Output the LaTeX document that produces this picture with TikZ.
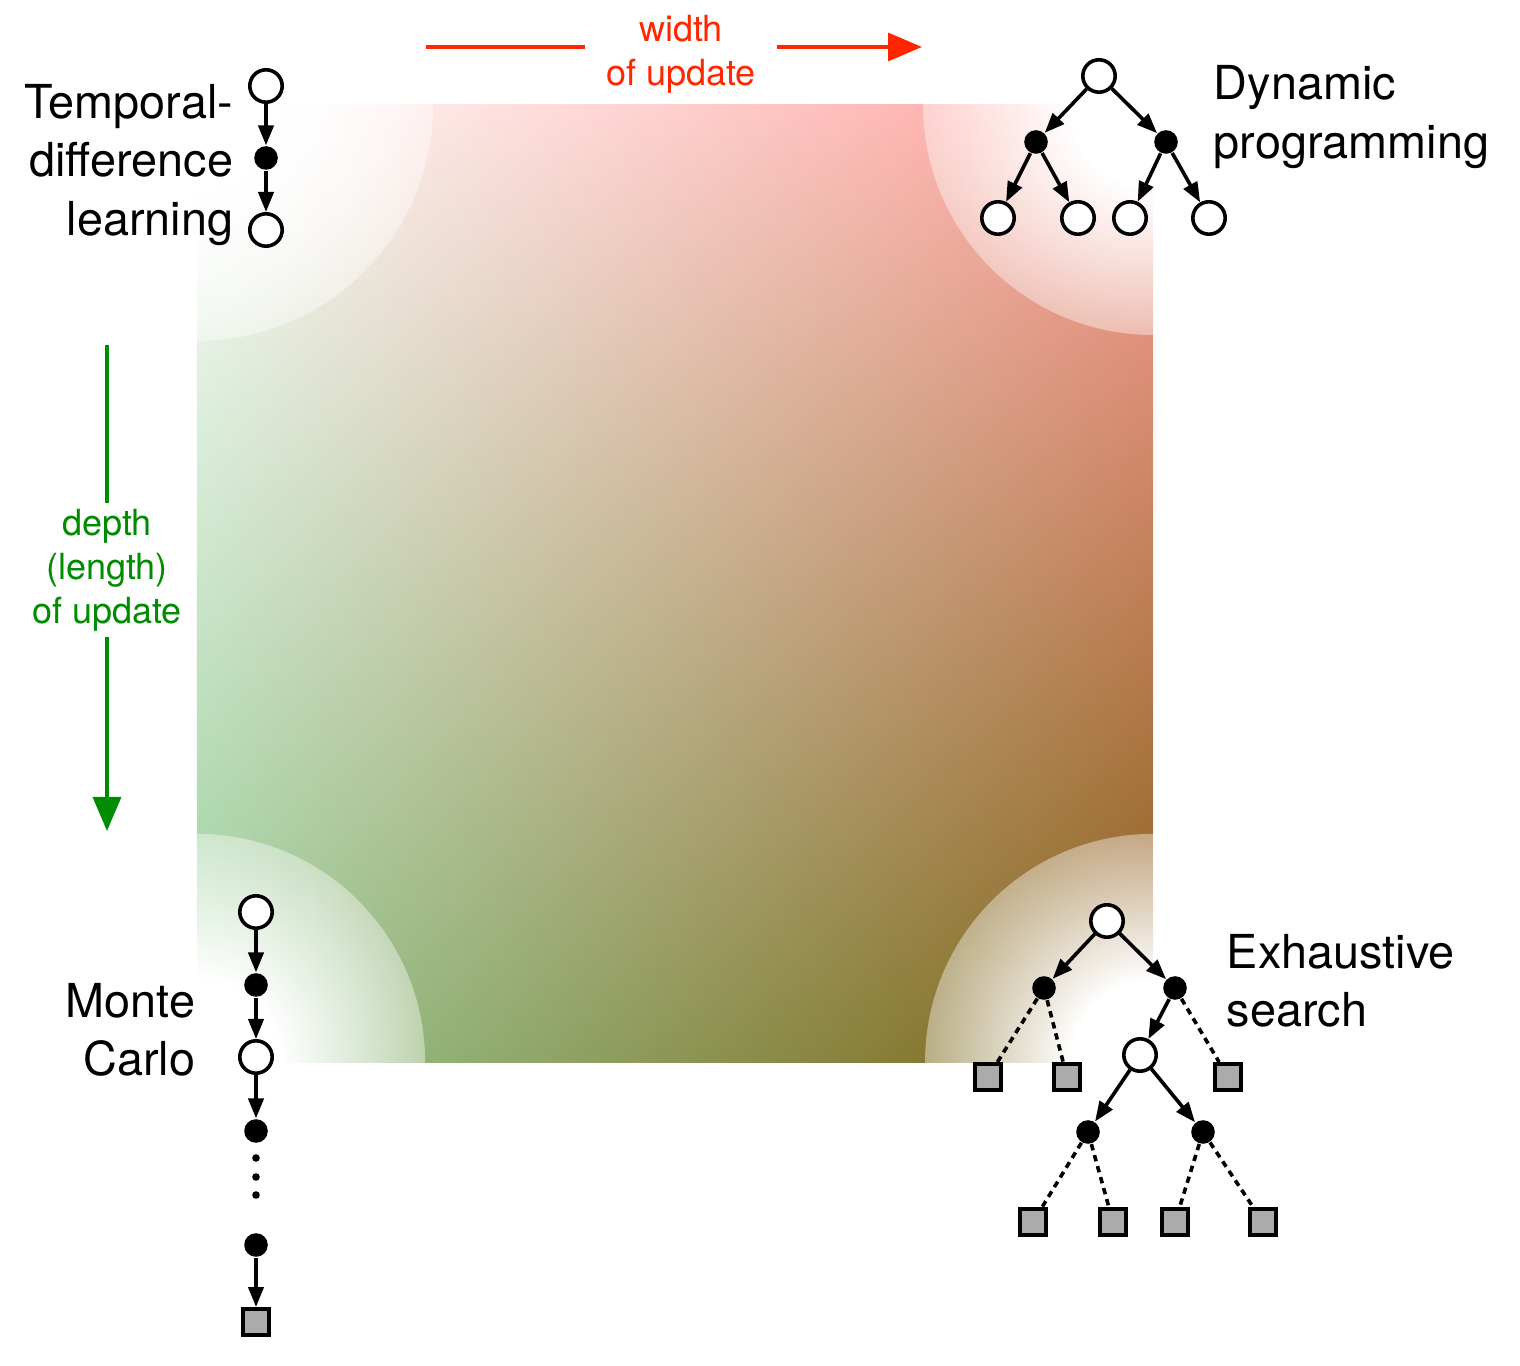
\documentclass[tikz,border=0pt]{standalone}
\usepackage{fontspec}
\setmainfont{TeX Gyre Heros}
\usetikzlibrary{arrows.meta,fadings}

\definecolor{widthred}{RGB}{255,38,0}
\definecolor{depthgreen}{RGB}{0,140,0}
\definecolor{cornerTR}{RGB}{255,160,155}
\definecolor{cornerBL}{RGB}{150,205,150}
\definecolor{cornerBR}{RGB}{130,95,20}

\pgfdeclareradialshading{cornershade}{\pgfpointorigin}{color(0bp)=(white); color(9bp)=(white); color(25bp)=(black!60); color(50bp)=(black!60)}
\pgfdeclarefading{cornerfade}{\pgfuseshading{cornershade}}
\pgfdeclareverticalshading{lowershade}{100bp}{color(0bp)=(white); color(25bp)=(white); color(75bp)=(black); color(100bp)=(black)}
\pgfdeclarefading{lowerfade}{\pgfuseshading{lowershade}}

\tikzset{
	statenode/.style={circle, draw, fill=white, line width=0.9pt, minimum size=8.1pt, inner sep=0pt},
	actionnode/.style={circle, fill=black, minimum size=5.9pt, inner sep=0pt},
	termnode/.style={rectangle, draw, fill=black!33, line width=0.9pt, minimum size=6.6pt, inner sep=0pt},
	dotnode/.style={circle, fill=black, minimum size=1.9pt, inner sep=0pt},
	backup/.style={line width=0.9pt, -{Triangle[length=5pt,width=3.8pt]}},
	rollout/.style={line width=0.9pt, dash pattern=on 1.6pt off 1.25pt},
	labeltext/.style={font=\fontsize{11.7}{14.6}\selectfont, inner sep=0pt},
	axistext/.style={font=\fontsize{9}{11}\selectfont, fill=white, align=center},
	axisarrow/.style={line width=0.85pt, -{Triangle[length=8.5pt,width=7pt]}}
}

\begin{document}
\begin{tikzpicture}[x=0.25pt, y=-0.25pt]
	\useasboundingbox (0,0) rectangle (1520,1366);
	% Gradient Square %
	\shade [left color=white, right color=cornerTR] (197,105) rectangle (1153,1062);
	\shade [left color=cornerBL, right color=cornerBR, path fading=lowerfade] (197,105) rectangle (1153,1062);
	% Corner Fades %
	\foreach \cx/\cy/\r in {197/105/236, 1153/105/230, 197/1062/228, 1153/1062/228}
		{\fill [white, path fading=cornerfade] (\cx,\cy) circle (\r);}

	% Width Arrow %
	\coordinate (widthstart) at (426,47);
	\coordinate (widthend) at (922,47);
	\draw [widthred, axisarrow] (widthstart) -- (widthend);
	\node (widthlabel) [axistext, text=widthred, inner xsep=5.25pt, inner ysep=1pt] at (681,54) {width\\of update};

	% Depth Arrow %
	\coordinate (depthstart) at (107,345);
	\coordinate (depthend) at (107,831);
	\draw [depthgreen, axisarrow] (depthstart) -- (depthend);
	\node (depthlabel) [axistext, text=depthgreen, inner xsep=1pt, inner ysep=1.5pt] at (107,570) {depth\\(length)\\of update};

	% Temporal-difference Learning %
	\node (tdtop) [statenode] at (266,86) {};
	\node (tdmid) [actionnode] at (266,158) {};
	\node (tdbottom) [statenode] at (266,230) {};
	\draw [backup] (tdtop) -- (tdmid);
	\draw [backup] (tdmid) -- (tdbottom);
	\node (tdlabel) [labeltext, anchor=east, align=right] at (234,165) {Temporal-\\difference\\learning};

	% Dynamic Programming %
	\node (dproot) [statenode] at (1099,76) {};
	\node (dpleft) [actionnode] at (1036,142) {};
	\node (dpright) [actionnode] at (1166,142) {};
	\foreach \name/\x in {dpleaf1/998, dpleaf2/1078, dpleaf3/1130, dpleaf4/1209}
		\node (\name) [statenode] at (\x,218) {};
	\foreach \a/\b in {dproot/dpleft, dproot/dpright, dpleft/dpleaf1, dpleft/dpleaf2, dpright/dpleaf3, dpright/dpleaf4}
		{\draw [backup] (\a) -- (\b);}
	\node (dplabel) [labeltext, anchor=west, align=left] at (1213,117) {Dynamic\\programming};

	% Monte Carlo %
	\node (mcs0) [statenode] at (256,912) {};
	\node (mca0) [actionnode] at (256,985) {};
	\node (mcs1) [statenode] at (256,1057) {};
	\node (mca1) [actionnode] at (256,1131) {};
	\foreach \i/\y in {1/1158, 2/1177, 3/1195}
		\node (mcdot\i) [dotnode] at (256,\y) {};
	\node (mcalast) [actionnode] at (256,1245) {};
	\node (mcend) [termnode] at (256,1322) {};
	\foreach \a/\b in {mcs0/mca0, mca0/mcs1, mcs1/mca1, mcalast/mcend}
		{\draw [backup] (\a) -- (\b);}
	\node (mclabel) [labeltext, anchor=east, align=right] at (196,1030) {Monte\\Carlo};

	% Exhaustive Search %
	\node (esroot) [statenode] at (1107,921) {};
	\node (esleft) [actionnode] at (1044,988) {};
	\node (esright) [actionnode] at (1175,988) {};
	\node (esmid) [statenode] at (1140,1055) {};
	\node (esbotleft) [actionnode] at (1088,1132) {};
	\node (esbotright) [actionnode] at (1203,1132) {};
	\foreach \name/\x in {essq1/988, essq2/1067, essq3/1228}
		\node (\name) [termnode] at (\x,1077) {};
	\foreach \name/\x in {essq4/1033, essq5/1113, essq6/1175, essq7/1263}
		\node (\name) [termnode] at (\x,1222) {};
	\foreach \a/\b in {esroot/esleft, esroot/esright, esright/esmid, esmid/esbotleft, esmid/esbotright}
		{\draw [backup] (\a) -- (\b);}
	\foreach \a/\b in {esleft/essq1, esleft/essq2, esright/essq3, esbotleft/essq4, esbotleft/essq5, esbotright/essq6, esbotright/essq7}
		{\draw [rollout] (\a) -- (\b);}
	\node (eslabel) [labeltext, anchor=west, align=left] at (1226,981) {Exhaustive\\search};
\end{tikzpicture}
\end{document}
